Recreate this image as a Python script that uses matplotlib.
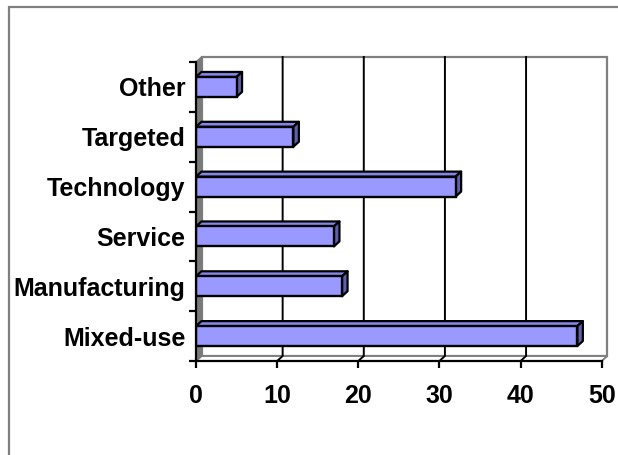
import matplotlib
matplotlib.use("Agg")
import matplotlib.pyplot as plt
from matplotlib.patches import Polygon, Rectangle
from matplotlib.ticker import FixedLocator

categories = ["Mixed-use", "Manufacturing", "Service", "Technology", "Targeted", "Other"]
values = [47, 18, 17, 32, 12, 5]
xticks = [0, 10, 20, 30, 40, 50]

W, H = 618, 455
fig = plt.figure(figsize=(W / 100, H / 100), dpi=100)
fig.patch.set_facecolor("white")

# outer chart border
fig.add_artist(Rectangle((8.5 / W, -0.1), 1.2, 1.1 - 7.5 / H,
                         transform=fig.transFigure, facecolor="none",
                         edgecolor="#808080", lw=1.6, clip_on=False))

ax_l, ax_b, ax_w, ax_h = 196 / W, 94 / H, 405.7 / W, 299 / H
ax = fig.add_axes([ax_l, ax_b, ax_w, ax_h])
ax.set_facecolor("none")
xmin, xmax = 0, 50
ymin, ymax = -0.5, len(categories) - 0.5
ax.set_xlim(xmin, xmax)
ax.set_ylim(ymin, ymax)

# 3D depth offset in data units
dpx, dpy = 5.5, 5.0
dx = dpx * (xmax - xmin) / (ax_w * W)
dy = dpy * (ymax - ymin) / (ax_h * H)

gray = "#808080"
# back wall
ax.add_patch(Polygon([(xmin + dx, ymin + dy), (xmax + dx, ymin + dy),
                      (xmax + dx, ymax + dy), (xmin + dx, ymax + dy)],
                     closed=True, facecolor="white", edgecolor=gray, lw=1.6,
                     clip_on=False, zorder=1))
# floor
ax.add_patch(Polygon([(xmin, ymin), (xmax, ymin), (xmax + dx, ymin + dy), (xmin + dx, ymin + dy)],
                     closed=True, facecolor="white", edgecolor=gray, lw=1.4,
                     clip_on=False, zorder=1.5))
# left wall
ax.add_patch(Polygon([(xmin, ymin), (xmin, ymax), (xmin + dx, ymax + dy), (xmin + dx, ymin + dy)],
                     closed=True, facecolor="#7a7a7a", edgecolor="#7a7a7a", lw=1.0,
                     clip_on=False, zorder=1.5))

# gridlines on the back wall and floor
for t in xticks[1:-1]:
    ax.plot([t + dx, t + dx, t], [ymax + dy, ymin + dy, ymin], color="black",
            lw=1.4, clip_on=False, zorder=2, solid_joinstyle="miter")

# bars
bh = 0.40
front = "#9999FF"
topc = "#8585E8"
sidec = "#5F5FAA"
ys = list(range(len(categories)))
ax.barh(ys, values, height=bh, color=front, edgecolor="black", lw=1.7, zorder=4)
for y, v in zip(ys, values):
    t = y + bh / 2
    b = y - bh / 2
    ax.add_patch(Polygon([(0, t), (v, t), (v + dx, t + dy), (0 + dx, t + dy)],
                         closed=True, facecolor=topc, edgecolor="black", lw=1.6,
                         joinstyle="round", clip_on=False, zorder=3.5))
    ax.add_patch(Polygon([(v, b), (v, t), (v + dx, t + dy), (v + dx, b + dy)],
                         closed=True, facecolor=sidec, edgecolor="black", lw=1.6,
                         joinstyle="round", clip_on=False, zorder=3.5))

# axes / spines
for s in ["top", "right"]:
    ax.spines[s].set_visible(False)
for s in ["left", "bottom"]:
    ax.spines[s].set_color("black")
    ax.spines[s].set_linewidth(1.6)
    ax.spines[s].set_zorder(5)

font = dict(family=["Liberation Sans", "DejaVu Sans"], weight="bold", size=18)

ax.set_yticks(ys)
ax.set_yticklabels(categories, **font)
ax.yaxis.set_minor_locator(FixedLocator([i - 0.5 for i in range(len(categories) + 1)]))
ax.tick_params(axis="y", which="major", length=0, pad=7.5)
ax.tick_params(axis="y", which="minor", length=5, width=1.6, color="black", direction="out")

ax.set_xticks(xticks)
ax.set_xticklabels([str(t) for t in xticks], **font)
ax.tick_params(axis="x", which="major", length=5, width=1.6, color="black",
               direction="out", pad=11.5)

fig.savefig("out.png", dpi=100)
